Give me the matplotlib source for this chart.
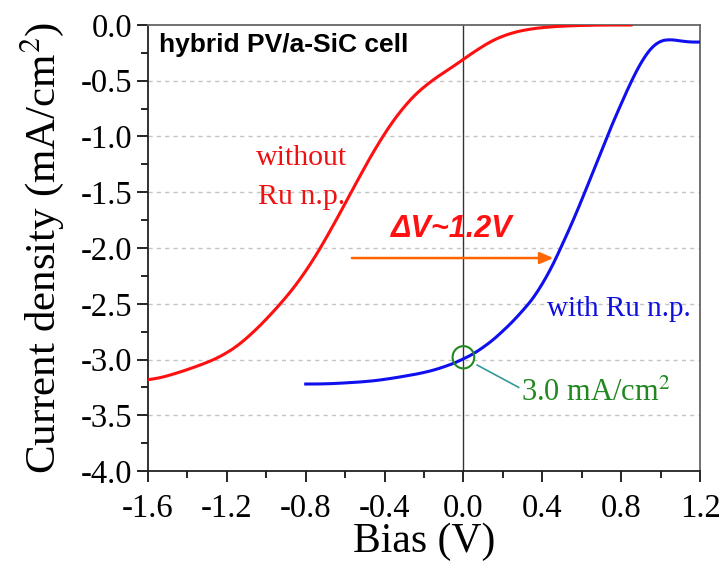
import matplotlib
matplotlib.use("Agg")
import matplotlib.pyplot as plt
import numpy as np
from matplotlib.ticker import MultipleLocator
from matplotlib.patches import Ellipse

# J-V curves of the hybrid PV/a-SiC photocathode
bias_without = [-1.6, -1.5, -1.4, -1.3, -1.2, -1.1, -1.0, -0.9, -0.8, -0.7, -0.6, -0.5,
                -0.4, -0.3, -0.2, -0.1, 0.0, 0.1, 0.2, 0.3, 0.4, 0.5, 0.6, 0.7, 0.85]
j_without = [-3.19, -3.15, -3.09, -3.03, -2.95, -2.82, -2.64, -2.45, -2.22, -1.93, -1.60, -1.27,
             -0.96, -0.72, -0.54, -0.43, -0.31, -0.18, -0.09, -0.045, -0.02, -0.01, -0.003, 0.0, 0.0]

bias_with = [-0.8, -0.7, -0.6, -0.5, -0.4, -0.3, -0.2, -0.1, 0.0, 0.1, 0.2, 0.3, 0.4, 0.5,
             0.6, 0.7, 0.8, 0.9, 0.95, 1.0, 1.04, 1.1, 1.15, 1.2]
j_with = [-3.22, -3.22, -3.21, -3.20, -3.18, -3.15, -3.12, -3.07, -3.00, -2.90, -2.75, -2.57,
          -2.35, -1.98, -1.58, -1.12, -0.70, -0.32, -0.18, -0.12, -0.115, -0.15, -0.16, -0.15]

x_ticks = [-1.6, -1.2, -0.8, -0.4, 0.0, 0.4, 0.8, 1.2]
y_ticks = [0.0, -0.5, -1.0, -1.5, -2.0, -2.5, -3.0, -3.5, -4.0]

# smooth the traces for drawing
def smooth(x, y, n=400):
    xs = np.linspace(x[0], x[-1], n)
    ys = np.interp(xs, x, y)
    k = 15
    pad = np.pad(ys, k, mode="edge")
    ys = np.convolve(pad, np.ones(2 * k + 1) / (2 * k + 1), mode="same")[k:-k]
    return xs, ys

serif = ["Liberation Serif", "DejaVu Serif"]
sans = ["Liberation Sans", "DejaVu Sans"]
plt.rcParams["mathtext.fontset"] = "stix"

fig = plt.figure(figsize=(7.23, 5.63), dpi=100)
ax = fig.add_axes([0.2047, 0.1634, 0.7635, 0.7922])

xr, yr = smooth(bias_without, j_without)
xb, yb = smooth(bias_with, j_with)
ax.plot(xr, yr, color="#ff1010", lw=2.2, zorder=3)
ax.plot(xb, yb, color="#1010ee", lw=2.2, zorder=3)

ax.set_xlim(-1.6, 1.2)
ax.set_ylim(-4.0, 0.0)
ax.set_xticks(x_ticks)
ax.set_yticks(y_ticks)
ax.set_xticklabels([f"{v:.1f}" for v in x_ticks], fontfamily=serif, fontsize=23.5)
ax.set_yticklabels([f"{v:.1f}" for v in y_ticks], fontfamily=serif, fontsize=23.5)
ax.xaxis.set_minor_locator(MultipleLocator(0.2))
ax.yaxis.set_minor_locator(MultipleLocator(0.25))
ax.tick_params(which="both", direction="out", top=False, right=False, width=1.2)
ax.tick_params(which="major", length=8)
ax.tick_params(which="minor", length=5)
ax.tick_params(axis="x", which="major", pad=8)
ax.tick_params(axis="y", which="major", pad=3)
for sp in ax.spines.values():
    sp.set_linewidth(1.3)
    sp.set_color("#222222")
ax.spines["right"].set_color("#666666")
ax.spines["top"].set_color("#666666")

for v in y_ticks[1:-1]:
    ax.axhline(v, color="#c4c4c4", lw=1.0, ls=(0, (3, 3)), zorder=1)
ax.axvline(0.0, color="#333333", lw=1.0, zorder=2)

ax.set_xlabel("Bias (V)", fontfamily=serif, fontsize=30, labelpad=-1)
ax.set_ylabel("Current density (mA/cm$^2$)", fontfamily=serif, fontsize=31, labelpad=11)

ax.text(-1.545, -0.175, "hybrid PV/a-SiC cell", fontfamily=sans, fontweight="bold",
        fontsize=19, va="center", ha="left")
ax.text(-0.82, -1.19, "without", color="#ee1111", fontfamily=serif, fontsize=21.5, ha="center", va="center")
ax.text(-0.82, -1.54, "Ru n.p.", color="#ee1111", fontfamily=serif, fontsize=21.5, ha="center", va="center")
ax.text(0.79, -2.55, "with Ru n.p.", color="#1010dd", fontfamily=serif, fontsize=21, ha="center", va="center")
ax.text(0.29, -3.30, "3.0 mA/cm$^2$", color="#228822", fontfamily=serif, fontsize=22, ha="left", va="center")

ax.annotate("", xy=(0.47, -2.09), xytext=(-0.58, -2.09),
            arrowprops=dict(arrowstyle="-|>,head_length=0.8,head_width=0.35", color="#ff6600", lw=1.8))
ax.text(-0.37, -1.83, "ΔV~1.2V", color="#ff1111", fontfamily=sans, fontweight="bold",
        fontstyle="italic", fontsize=22, ha="left", va="center")

ax.add_patch(Ellipse((0.0, -2.98), 0.11, 0.2, fill=False, ec="#228822", lw=1.5, zorder=4))
ax.plot([0.07, 0.28], [-3.05, -3.25], color="#339999", lw=1.2, zorder=4)

fig.savefig("out.png", dpi=100)
